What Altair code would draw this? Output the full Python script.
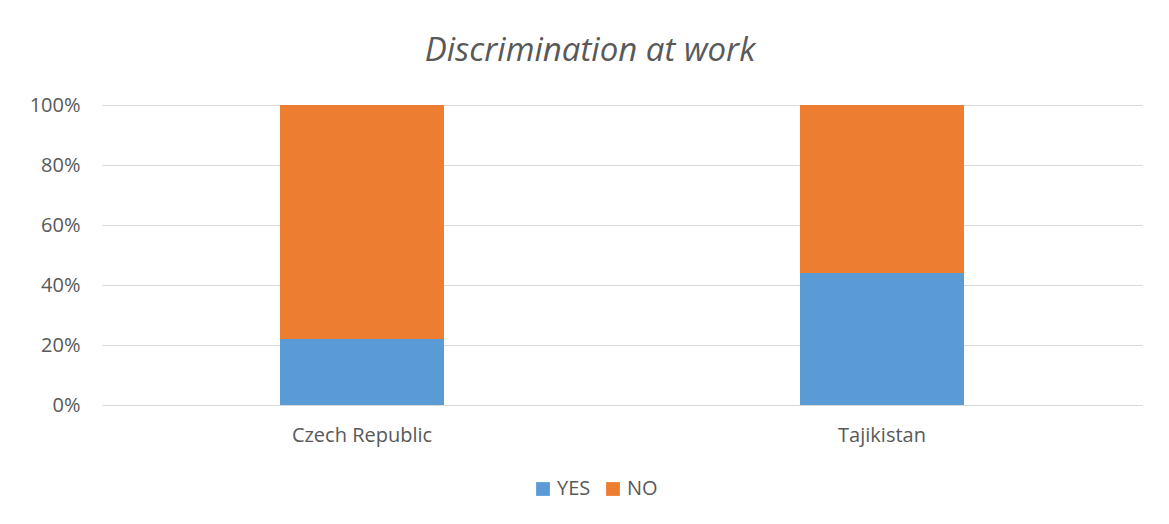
import altair as alt
import pandas as pd

countries = ["Czech Republic", "Tajikistan"]
answers = ["YES", "NO"]
yes_values = [0.22, 0.44]
no_values = [0.78, 0.56]

rows = []
for c, y, n in zip(countries, yes_values, no_values):
    rows.append({"country": c, "answer": "YES", "value": y, "order": 0})
    rows.append({"country": c, "answer": "NO", "value": n, "order": 1})
df = pd.DataFrame(rows)

FONT = "Open Sans"
GRAY = "#595959"

chart = alt.Chart(df).mark_bar(size=164).encode(
    x=alt.X("country:N", sort=countries, title=None,
            scale=alt.Scale(paddingInner=0, paddingOuter=0),
            axis=alt.Axis(labelAngle=0, ticks=False, domainColor="#d9d9d9",
                          labelFontSize=20, labelColor=GRAY, labelFont=FONT,
                          labelPadding=20)),
    y=alt.Y("value:Q", stack="zero", title=None,
            scale=alt.Scale(domain=[0, 1], nice=False),
            axis=alt.Axis(format="%", values=[0, 0.2, 0.4, 0.6, 0.8, 1.0],
                          ticks=False, domain=False, gridColor="#d9d9d9",
                          labelFontSize=20, labelColor=GRAY, labelFont=FONT,
                          labelPadding=22)),
    color=alt.Color("answer:N", sort=answers,
                    scale=alt.Scale(domain=answers, range=["#5B9BD5", "#ED7D31"]),
                    legend=alt.Legend(title=None, orient="none", direction="horizontal",
                                      legendX=431, legendY=374,
                                      symbolType="square", symbolSize=190,
                                      symbolStrokeWidth=0,
                                      labelFontSize=20, labelColor=GRAY, labelFont=FONT,
                                      labelOffset=4, columnPadding=12)),
    order=alt.Order("order:Q"),
).properties(
    width=1040,
    height=300,
    title=alt.TitleParams("Discrimination at work", fontSize=33, font=FONT,
                          fontStyle="italic", fontWeight="normal", color=GRAY,
                          anchor="middle", dx=-32, offset=27),
    padding={"left": 102, "top": 105, "right": 27, "bottom": 119},
    autosize=alt.AutoSizeParams(type="none"),
).configure_view(stroke=None).configure_axis(gridWidth=1)

chart.save("out.html", embed_options={"renderer": "svg", "actions": False})
